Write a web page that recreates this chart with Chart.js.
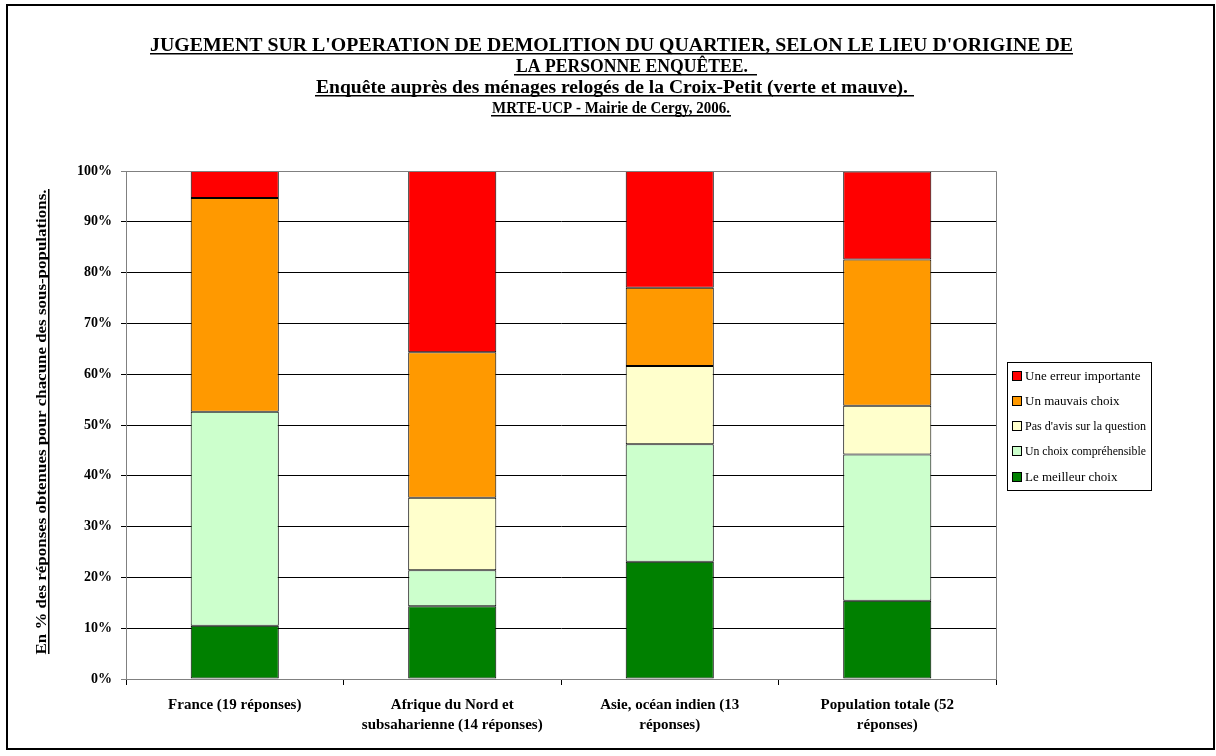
<!DOCTYPE html>
<html>
<head>
<meta charset="utf-8">
<script src="https://cdn.jsdelivr.net/npm/chart.js@4"></script>
<style>
  body { margin: 0; background: #fff; }
  #wrap { width: 1216px; height: 756px; }
</style>
</head>
<body>
<div id="wrap"><canvas id="chart" width="1216" height="756"></canvas></div>
<script>
// categories (x axis labels, split on lines)
var categories = [
    ['France (19 réponses)'],
    ['Afrique du Nord et', 'subsaharienne (14 réponses)'],
    ['Asie, océan indien (13', 'réponses)'],
    ['Population totale (52', 'réponses)']
];

// series values, % of each sub-population
var meilleurChoix = [10.5, 14.3, 23.1, 15.4];
var choixComprehensible = [42.1, 7.1, 23.1, 28.8];
var pasAvis = [0, 14.3, 15.4, 9.6];
var mauvaisChoix = [42.1, 28.6, 15.4, 28.8];
var erreurImportante = [5.3, 35.7, 23.1, 17.3];

var yTicks = [0, 10, 20, 30, 40, 50, 60, 70, 80, 90, 100];

var titleLines = [
    "JUGEMENT SUR L'OPERATION DE DEMOLITION DU QUARTIER, SELON LE LIEU D'ORIGINE DE",
    "LA PERSONNE ENQUÊTEE.",
    "Enquête auprès des ménages relogés de la Croix-Petit (verte et mauve).",
    "MRTE-UCP - Mairie de Cergy, 2006."
];
var yTitle = "En % des réponses obtenues pour chacune des sous-populations.";

var SERIF = "'Liberation Serif', 'Times New Roman', serif";

// draw text squeezed/stretched to a target width
function fitText(ctx, text, cx, y, w) {
    var m = ctx.measureText(text).width;
    ctx.save();
    ctx.translate(cx, y);
    ctx.scale(w / m, 1);
    ctx.textAlign = 'center';
    ctx.fillText(text, 0, 0);
    ctx.restore();
}

var decorPlugin = {
    id: 'decor',
    beforeDraw: function (chart) {
        var ctx = chart.ctx;
        ctx.save();
        ctx.fillStyle = '#fff';
        ctx.fillRect(0, 0, chart.width, chart.height);
        ctx.restore();
    },
    afterDraw: function (chart) {
        var ctx = chart.ctx;
        var area = chart.chartArea;
        ctx.save();

        // plot area frame (top / right)
        ctx.strokeStyle = '#808080';
        ctx.lineWidth = 1;
        ctx.beginPath();
        ctx.moveTo(area.left, area.top + 0.5);
        ctx.lineTo(area.right + 0.5, area.top + 0.5);
        ctx.lineTo(area.right + 0.5, area.bottom);
        ctx.stroke();

        // outer frame
        ctx.strokeStyle = '#000';
        ctx.lineWidth = 2;
        ctx.strokeRect(7, 5, 1207, 744);

        // titles, bold underlined
        ctx.fillStyle = '#000';
        var tl = [
            { cx: 611.5, w: 923, y: 51, size: 19 },
            { cx: 632, w: 232, y: 72, size: 19 },
            { cx: 612, w: 592, y: 93, size: 18 },
            { cx: 611, w: 238, y: 113, size: 17 }
        ];
        var ul = [[150, 1073], [514, 757], [315, 914], [491, 731]];
        titleLines.forEach(function (t, i) {
            ctx.font = 'bold ' + tl[i].size + 'px ' + SERIF;
            fitText(ctx, t, tl[i].cx, tl[i].y, tl[i].w);
            ctx.fillRect(ul[i][0], tl[i].y + 2, ul[i][1] - ul[i][0], 1.5);
        });

        // y axis title, rotated
        ctx.save();
        ctx.translate(46, 422);
        ctx.rotate(-Math.PI / 2);
        ctx.font = 'bold 15px ' + SERIF;
        fitText(ctx, yTitle, 0, 0, 465);
        ctx.fillRect(-232, 2, 465, 1.5);
        ctx.restore();

        // legend
        var items = chart.data.datasets.slice().reverse();
        ctx.strokeStyle = '#000';
        ctx.lineWidth = 1;
        ctx.strokeRect(1007.5, 362.5, 144, 128);
        ctx.font = '13px ' + SERIF;
        ctx.textBaseline = 'middle';
        ctx.textAlign = 'left';
        var ys = [376, 401, 426, 451, 477];
        items.forEach(function (ds, i) {
            ctx.fillStyle = ds.backgroundColor;
            ctx.fillRect(1012, ys[i] - 5, 10, 10);
            ctx.strokeRect(1012.5, ys[i] - 4.5, 9, 9);
            ctx.fillStyle = '#000';
            ctx.fillText(ds.label, 1025, ys[i] + 1, 121);
        });
        ctx.restore();
    }
};

function series(label, data, color) {
    return {
        label: label,
        data: data,
        backgroundColor: color,
        borderColor: '#000',
        borderWidth: 1,
        borderSkipped: false,
        barPercentage: 0.405,
        categoryPercentage: 1
    };
}

new Chart(document.getElementById('chart'), {
    type: 'bar',
    data: {
        labels: categories,
        datasets: [
            series('Le meilleur choix', meilleurChoix, '#008000'),
            series('Un choix compréhensible', choixComprehensible, '#CCFFCC'),
            series("Pas d'avis sur la question", pasAvis, '#FFFFCC'),
            series('Un mauvais choix', mauvaisChoix, '#FF9900'),
            series('Une erreur importante', erreurImportante, '#FF0000')
        ]
    },
    options: {
        responsive: false,
        animation: false,
        layout: { padding: { top: 171, right: 220, bottom: 0, left: 0 } },
        plugins: {
            legend: { display: false },
            title: { display: false },
            tooltip: { enabled: false }
        },
        scales: {
            x: {
                stacked: true,
                afterFit: function (s) { s.height = 77; },
                grid: {
                    offset: true,
                    drawOnChartArea: false,
                    drawTicks: true,
                    tickLength: 6,
                    color: '#000'
                },
                border: { display: true, color: '#808080', width: 1 },
                ticks: {
                    color: '#000',
                    padding: 10,
                    maxRotation: 0,
                    autoSkip: false,
                    font: { family: SERIF, size: 15, weight: 'bold', lineHeight: 1.33 }
                }
            },
            y: {
                stacked: true,
                min: 0,
                max: 100,
                afterFit: function (s) { s.width = 126; },
                afterBuildTicks: function (s) {
                    s.ticks = yTicks.map(function (v) { return { value: v }; });
                },
                grid: {
                    color: function (c) {
                        return (c.tick && (c.tick.value === 0 || c.tick.value === 100)) ? '#808080' : '#000';
                    },
                    tickLength: 5
                },
                border: { display: true, color: '#808080', width: 1 },
                ticks: {
                    color: '#000',
                    padding: 9,
                    callback: function (v) { return v + '%'; },
                    font: { family: SERIF, size: 14, weight: 'bold' }
                }
            }
        }
    },
    plugins: [decorPlugin]
});
</script>
</body>
</html>
